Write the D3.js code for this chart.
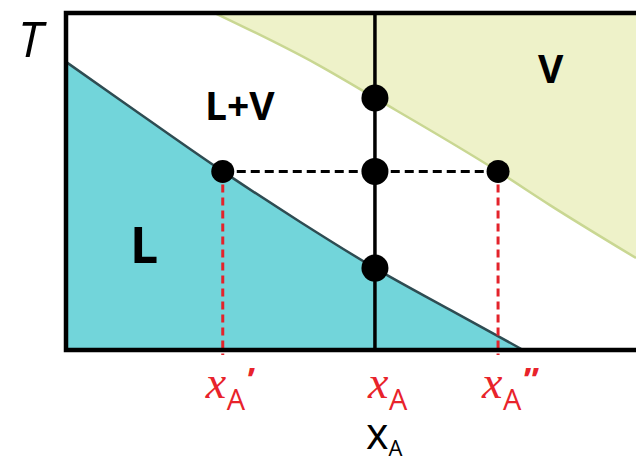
<!DOCTYPE html>
<html>
<head>
<meta charset="utf-8">
<script src="https://cdn.jsdelivr.net/npm/d3@7"></script>
<style>
  html, body { margin: 0; padding: 0; background: #fff; }
  svg { display: block; }
</style>
</head>
<body>
<svg id="chart" width="636" height="463"></svg>
<script>
// Binary liquid–vapour phase diagram (T against mole fraction of A)

// Liquid (bubble-point) boundary
const liquidX = [0, 9.5, 27.5, 41.1, 54.2, 67.4, 80.2];
const liquidT = [85.5, 74.2, 53.0, 38.0, 24.3, 11.9, 0];

// Vapour (dew-point) boundary
const vapourX = [26.1, 43.9, 54.2, 75.8, 84.9, 100];
const vapourT = [100, 84.9, 74.8, 53.0, 43.0, 27.3];

// Overall composition and the tie-line compositions
const xA = 54.2;
const xAliq = 27.5;
const xAvap = 75.8;
const tieT = 53.0;

// State points along the isopleth at xA
const isoT = [74.8, 53.0, 24.3];

// Region labels
const regionNames = ["L+V", "V", "L"];

const svg = d3.select("#chart");
const x = d3.scaleLinear().domain([0, 100]).range([66, 636]);
const y = d3.scaleLinear().domain([0, 100]).range([350, 13]);

const liquid = liquidX.map((v, i) => ({ x: v, t: liquidT[i] }));
const vapour = vapourX.map((v, i) => ({ x: v, t: vapourT[i] }));

// Liquid region (below the bubble curve)
svg.append("path")
  .datum(liquid)
  .attr("fill", "#72d5da")
  .attr("d", d3.area().x(d => x(d.x)).y0(y(0)).y1(d => y(d.t)).curve(d3.curveMonotoneX));

// Vapour region (above the dew curve)
svg.append("path")
  .datum(vapour)
  .attr("fill", "#eef2c9")
  .attr("d", d3.area().x(d => x(d.x)).y0(y(100)).y1(d => y(d.t)).curve(d3.curveMonotoneX));

// Boundary curves
svg.append("path")
  .datum(liquid)
  .attr("fill", "none")
  .attr("stroke", "#2e4c52")
  .attr("stroke-width", 2.5)
  .attr("d", d3.line().x(d => x(d.x)).y(d => y(d.t)).curve(d3.curveMonotoneX));

svg.append("path")
  .datum(vapour)
  .attr("fill", "none")
  .attr("stroke", "#c9d792")
  .attr("stroke-width", 2.5)
  .attr("d", d3.line().x(d => x(d.x)).y(d => y(d.t)).curve(d3.curveMonotoneX));

// Red dashed drop lines from the tie-line ends to the axis
[xAliq, xAvap].forEach(v => {
  svg.append("line")
    .attr("x1", x(v)).attr("x2", x(v))
    .attr("y1", y(tieT)).attr("y2", y(0) + 5)
    .attr("stroke", "#e3232b")
    .attr("stroke-width", 3)
    .attr("stroke-dasharray", "8,5");
});

// Tie line
svg.append("line")
  .attr("x1", x(xAliq)).attr("x2", x(xAvap))
  .attr("y1", y(tieT)).attr("y2", y(tieT))
  .attr("stroke", "#000")
  .attr("stroke-width", 3)
  .attr("stroke-dasharray", "9,5");

// Isopleth at xA
svg.append("line")
  .attr("x1", x(xA)).attr("x2", x(xA))
  .attr("y1", y(100)).attr("y2", y(0))
  .attr("stroke", "#000")
  .attr("stroke-width", 3.5);

// Frame (left, top and bottom edges)
svg.append("path")
  .attr("fill", "none")
  .attr("stroke", "#000")
  .attr("stroke-width", 4.5)
  .attr("d", `M${x(100) + 4},${y(100)}H${x(0)}V${y(0)}H${x(100) + 4}`);

// Points
svg.selectAll("circle.iso")
  .data(isoT)
  .join("circle")
  .attr("class", "iso")
  .attr("cx", x(xA))
  .attr("cy", d => y(d))
  .attr("r", 13.5)
  .attr("fill", "#000");

svg.selectAll("circle.tie")
  .data([xAliq, xAvap])
  .join("circle")
  .attr("class", "tie")
  .attr("cx", d => x(d))
  .attr("cy", y(tieT))
  .attr("r", 11.5)
  .attr("fill", "#000");

// Region labels
const bold = "'Open Sans', sans-serif";
svg.append("text").attr("x", 205).attr("y", 120)
  .attr("font-family", bold).attr("font-weight", 700).attr("font-size", 39)
  .text(regionNames[0]);
svg.append("text").attr("x", 538).attr("y", 83)
  .attr("font-family", bold).attr("font-weight", 700).attr("font-size", 39)
  .text(regionNames[1]);
svg.append("text").attr("x", 130).attr("y", 263)
  .attr("font-family", bold).attr("font-weight", 700).attr("font-size", 50)
  .text(regionNames[2]);

// Axis titles
svg.append("text").attr("x", 18).attr("y", 57)
  .attr("font-family", "'Open Sans', sans-serif").attr("font-style", "italic")
  .attr("font-size", 49)
  .text("T");

const axisTitle = svg.append("text").attr("x", 366).attr("y", 449)
  .attr("font-family", "'Open Sans', sans-serif").attr("font-size", 43);
axisTitle.append("tspan").text("x");
axisTitle.append("tspan").attr("font-size", 22).attr("dy", 7).text("A");

// Red composition labels under the axis
const compLabels = [
  { v: xAliq, mark: "\u2019", dx: -17 },
  { v: xA, mark: "", dx: -7 },
  { v: xAvap, mark: "\u201D", dx: -16 }
];
compLabels.forEach(l => {
  const g = svg.append("g").attr("fill", "#e8232b");
  const x0 = x(l.v) + l.dx;
  g.append("text").attr("x", x0).attr("y", 398)
    .attr("font-family", "'Liberation Serif', serif").attr("font-style", "italic")
    .attr("font-size", 46).text("x");
  g.append("text").attr("x", x0 + 21).attr("y", 410)
    .attr("font-family", "'Open Sans', sans-serif").attr("font-size", 29).text("A");
  if (l.mark) {
    g.append("text").attr("x", x0 + 42).attr("y", 392)
      .attr("font-family", "'Open Sans', sans-serif").attr("font-weight", 700)
      .attr("font-size", 34).text(l.mark);
  }
});
</script>
</body>
</html>
